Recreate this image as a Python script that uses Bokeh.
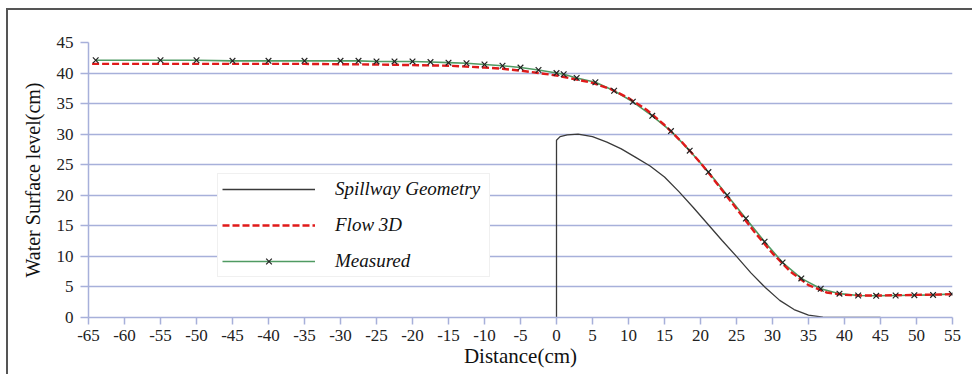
from bokeh.plotting import figure
from bokeh.models import Legend, LegendItem, FixedTicker
from bokeh.embed import file_html
from bokeh.resources import INLINE

# Spillway crest profile (cm)
spill_x = [0, 0, 0.5, 1.5, 3, 5, 7, 9, 11, 13, 15, 17, 19, 21, 23, 25, 27, 29, 31, 33, 35, 37, 39, 45]
spill_y = [0, 29, 29.6, 29.9, 30, 29.6, 28.7, 27.6, 26.2, 24.8, 23, 20.6, 18, 15.3, 12.6, 10, 7.3, 4.9, 2.8, 1.3, 0.4, 0.05, 0, 0]

# Flow-3D simulated water surface (cm)
flow_x = [-64.5, -55, -45, -35, -25, -20, -15, -10, -7.5, -5, -2.5, 0, 2.5, 5, 7.5, 10, 12.5, 15,
          17.5, 20, 22.5, 25, 27.5, 30, 32.5, 35, 37.5, 40, 42.5, 45, 50, 55]
flow_y = [41.5, 41.5, 41.5, 41.5, 41.4, 41.3, 41.2, 40.9, 40.7, 40.4, 40.0, 39.6, 39.0, 38.4, 37.4, 35.9,
          34.0, 31.5, 28.6, 25.3, 21.6, 17.8, 14.0, 10.5, 7.5, 5.3, 4.1, 3.7, 3.6, 3.6, 3.7, 3.8]

# Measured water surface (cm)
meas_x = [-64, -55, -50, -45, -40, -35, -30, -27.5, -25, -22.5, -20, -17.5, -15, -12.5, -10, -7.5, -5,
          -2.5, 0, 1, 2.8, 5.4, 8.0, 10.6, 13.3, 15.9, 18.5, 21.1, 23.7, 26.3, 28.9, 31.4, 34.0, 36.7,
          39.3, 41.9, 44.4, 47.1, 49.7, 52.3, 54.9]
meas_y = [42.1, 42.1, 42.1, 42.0, 42.0, 42.0, 42.0, 42.0, 41.9, 41.9, 41.9, 41.8, 41.7, 41.6, 41.4, 41.2,
          40.9, 40.5, 40.0, 39.8, 39.2, 38.5, 37.1, 35.3, 33.0, 30.5, 27.3, 23.8, 20.0, 16.2, 12.4, 9.0,
          6.4, 4.7, 3.9, 3.6, 3.55, 3.6, 3.65, 3.7, 3.85]

x_ticks = list(range(-65, 56, 5))
y_ticks = list(range(0, 46, 5))

SERIF = "Liberation Serif"
GRID = "#a7b0da"

# the canvas sits inside a thin panel frame drawn on its left and top edges
p = figure(width=966, height=366, output_backend="svg", toolbar_location=None,
           x_range=(-65, 55), y_range=(0, 45),
           min_border_left=80, min_border_right=22, min_border_top=32, min_border_bottom=59,
           margin=(8, 0, 0, 6),
           styles={"border-left": "2px solid #555555", "border-top": "2px solid #555555"})
p.outline_line_color = None
p.background_fill_color = "white"
p.border_fill_color = "white"

p.xgrid.grid_line_color = None
p.ygrid.grid_line_color = GRID
p.ygrid.grid_line_width = 1.5
p.ygrid.ticker = FixedTicker(ticks=y_ticks)

p.xaxis.ticker = FixedTicker(ticks=x_ticks)
p.yaxis.ticker = FixedTicker(ticks=y_ticks)
p.xaxis.major_label_overrides = {t: str(t) for t in x_ticks}
p.yaxis.major_label_overrides = {t: str(t) for t in y_ticks}

p.axis.axis_line_color = GRID
p.axis.axis_line_width = 1.5
p.axis.major_tick_line_color = GRID
p.axis.major_tick_line_width = 1.5
p.axis.major_tick_in = 0
p.axis.minor_tick_line_color = None
p.axis.major_label_text_font = SERIF
p.axis.major_label_text_font_style = "normal"
p.axis.major_label_text_font_size = "17px"
p.axis.major_label_text_color = "#222222"
p.axis.axis_label_text_font = SERIF
p.axis.axis_label_text_font_style = "normal"
p.axis.axis_label_text_color = "#111111"

p.xaxis.major_tick_out = 7
p.xaxis.major_label_standoff = 5
p.xaxis.axis_label = "Distance(cm)"
p.xaxis.axis_label_standoff = 0
p.xaxis.axis_label_text_font_size = "21px"

p.yaxis.major_tick_out = 8
p.yaxis.major_label_standoff = 7
p.yaxis.axis_label = "Water Surface level(cm)"
p.yaxis.axis_label_standoff = 10
p.yaxis.axis_label_text_font_size = "20px"

r_spill = p.line(spill_x, spill_y, line_color="#3a3a3a", line_width=1.3)
r_meas_line = p.line(meas_x, meas_y, line_color="#4f9a62", line_width=1.6)
r_flow = p.line(flow_x, flow_y, line_color="#e01a1a", line_width=2.4, line_dash="7 3")
r_meas_pts = p.scatter(meas_x, meas_y, marker="x", size=8, line_color="#222222", line_width=1.2)

legend = Legend(items=[
    LegendItem(label="Spillway Geometry", renderers=[r_spill]),
    LegendItem(label="Flow 3D", renderers=[r_flow]),
    LegendItem(label="Measured", renderers=[r_meas_line, r_meas_pts]),
], location=(129, 40))
legend.glyph_width = 93
legend.glyph_height = 20
legend.label_height = 20
legend.label_width = 150
legend.label_standoff = 20
legend.spacing = 14
legend.padding = 4
legend.margin = 0
legend.label_text_font = SERIF
legend.label_text_font_style = "italic"
legend.label_text_font_size = "19px"
legend.label_text_color = "#111111"
legend.border_line_color = "#e2e2e2"
legend.border_line_width = 1
legend.background_fill_color = "white"
legend.background_fill_alpha = 1
p.add_layout(legend, "center")

open("out.html", "w").write(file_html(p, INLINE))
